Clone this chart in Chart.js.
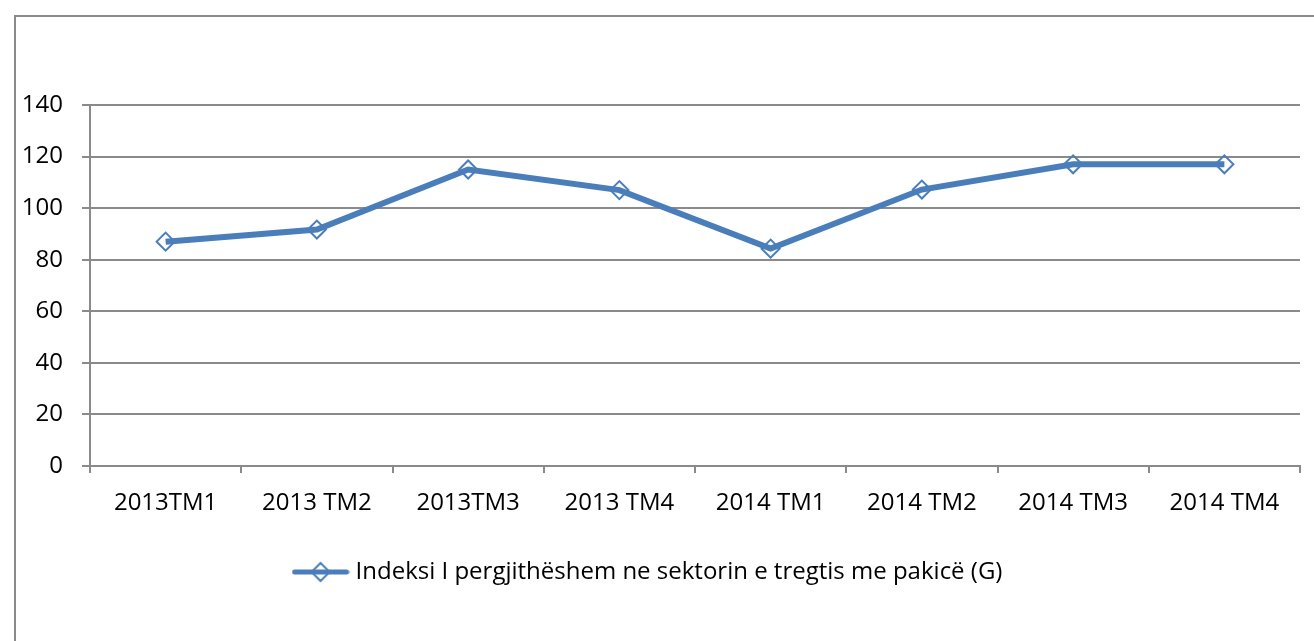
<!DOCTYPE html>
<html>
<head>
<meta charset="utf-8">
<script src="https://cdn.jsdelivr.net/npm/chart.js@4.4.0/dist/chart.umd.min.js"></script>
<style>
    body { margin: 0; background: #fff; }
    .wrap { position: relative; width: 1314px; height: 641px; overflow: hidden; }
    .frame {
        position: absolute; left: 14px; top: 15px; width: 1400px; height: 700px;
        border-left: 2px solid #8a8a8a; border-top: 2px solid #8a8a8a;
    }
    canvas { position: absolute; left: 0; top: 0; }
</style>
</head>
<body>
<div class="wrap">
    <div class="frame"></div>
    <canvas id="chart" width="1314" height="641"></canvas>
</div>
<script>
// quarters and index values
const quarters = ["2013TM1", "2013 TM2", "2013TM3", "2013 TM4", "2014 TM1", "2014 TM2", "2014 TM3", "2014 TM4"];
const indexValues = [87, 91.7, 115, 107, 84.3, 107.2, 117, 117];
const seriesName = "Indeksi I pergjithëshem ne sektorin e tregtis me pakicë (G)";

const blue = "#4a7ebb";
const grey = "#8a8a8a";
const font = { family: "'Open Sans', sans-serif", size: 24 };

// legend symbol: line with a hollow diamond in the middle
function legendSymbol() {
    const c = document.createElement("canvas");
    c.width = 58;
    c.height = 22;
    const g = c.getContext("2d");
    g.strokeStyle = blue;
    g.lineCap = "round";
    g.lineWidth = 5;
    g.beginPath();
    g.moveTo(3, 11);
    g.lineTo(55, 11);
    g.stroke();
    g.lineWidth = 2;
    g.beginPath();
    g.moveTo(29, 2);
    g.lineTo(38, 11);
    g.lineTo(29, 20);
    g.lineTo(20, 11);
    g.closePath();
    g.stroke();
    return c;
}

const ctx = document.getElementById("chart").getContext("2d");

new Chart(ctx, {
    type: "line",
    data: {
        labels: quarters,
        datasets: [{
            label: seriesName,
            data: indexValues,
            borderColor: blue,
            borderWidth: 6,
            pointStyle: "rectRot",
            pointRadius: 9,
            pointBorderWidth: 2,
            pointBorderColor: blue,
            pointBackgroundColor: "rgba(0,0,0,0)",
            tension: 0
        }]
    },
    options: {
        responsive: false,
        animation: false,
        layout: {
            padding: { top: 105, right: 14, bottom: 47, left: 0 }
        },
        scales: {
            x: {
                offset: true,
                grid: {
                    offset: true,
                    drawOnChartArea: false,
                    drawTicks: true,
                    tickLength: 7,
                    color: grey,
                    lineWidth: 2
                },
                border: { color: grey, width: 2 },
                ticks: { color: "#000", font, padding: 16, maxRotation: 0 },
                afterFit: s => { s.height = 84; }
            },
            y: {
                min: 0,
                max: 140,
                ticks: { stepSize: 20, color: "#000", font, padding: 19 },
                grid: { color: grey, lineWidth: 2, tickLength: 8 },
                border: { color: grey, width: 2 },
                afterFit: s => { s.width = 90; }
            }
        },
        plugins: {
            tooltip: { enabled: false },
            legend: {
                position: "bottom",
                labels: {
                    color: "#000",
                    font,
                    padding: 10,
                    usePointStyle: true,
                    pointStyleWidth: 46,
                    generateLabels: chart => [{
                        text: seriesName,
                        pointStyle: legendSymbol(),
                        fontColor: "#000",
                        lineWidth: 0,
                        datasetIndex: 0
                    }]
                }
            }
        }
    }
});
</script>
</body>
</html>
